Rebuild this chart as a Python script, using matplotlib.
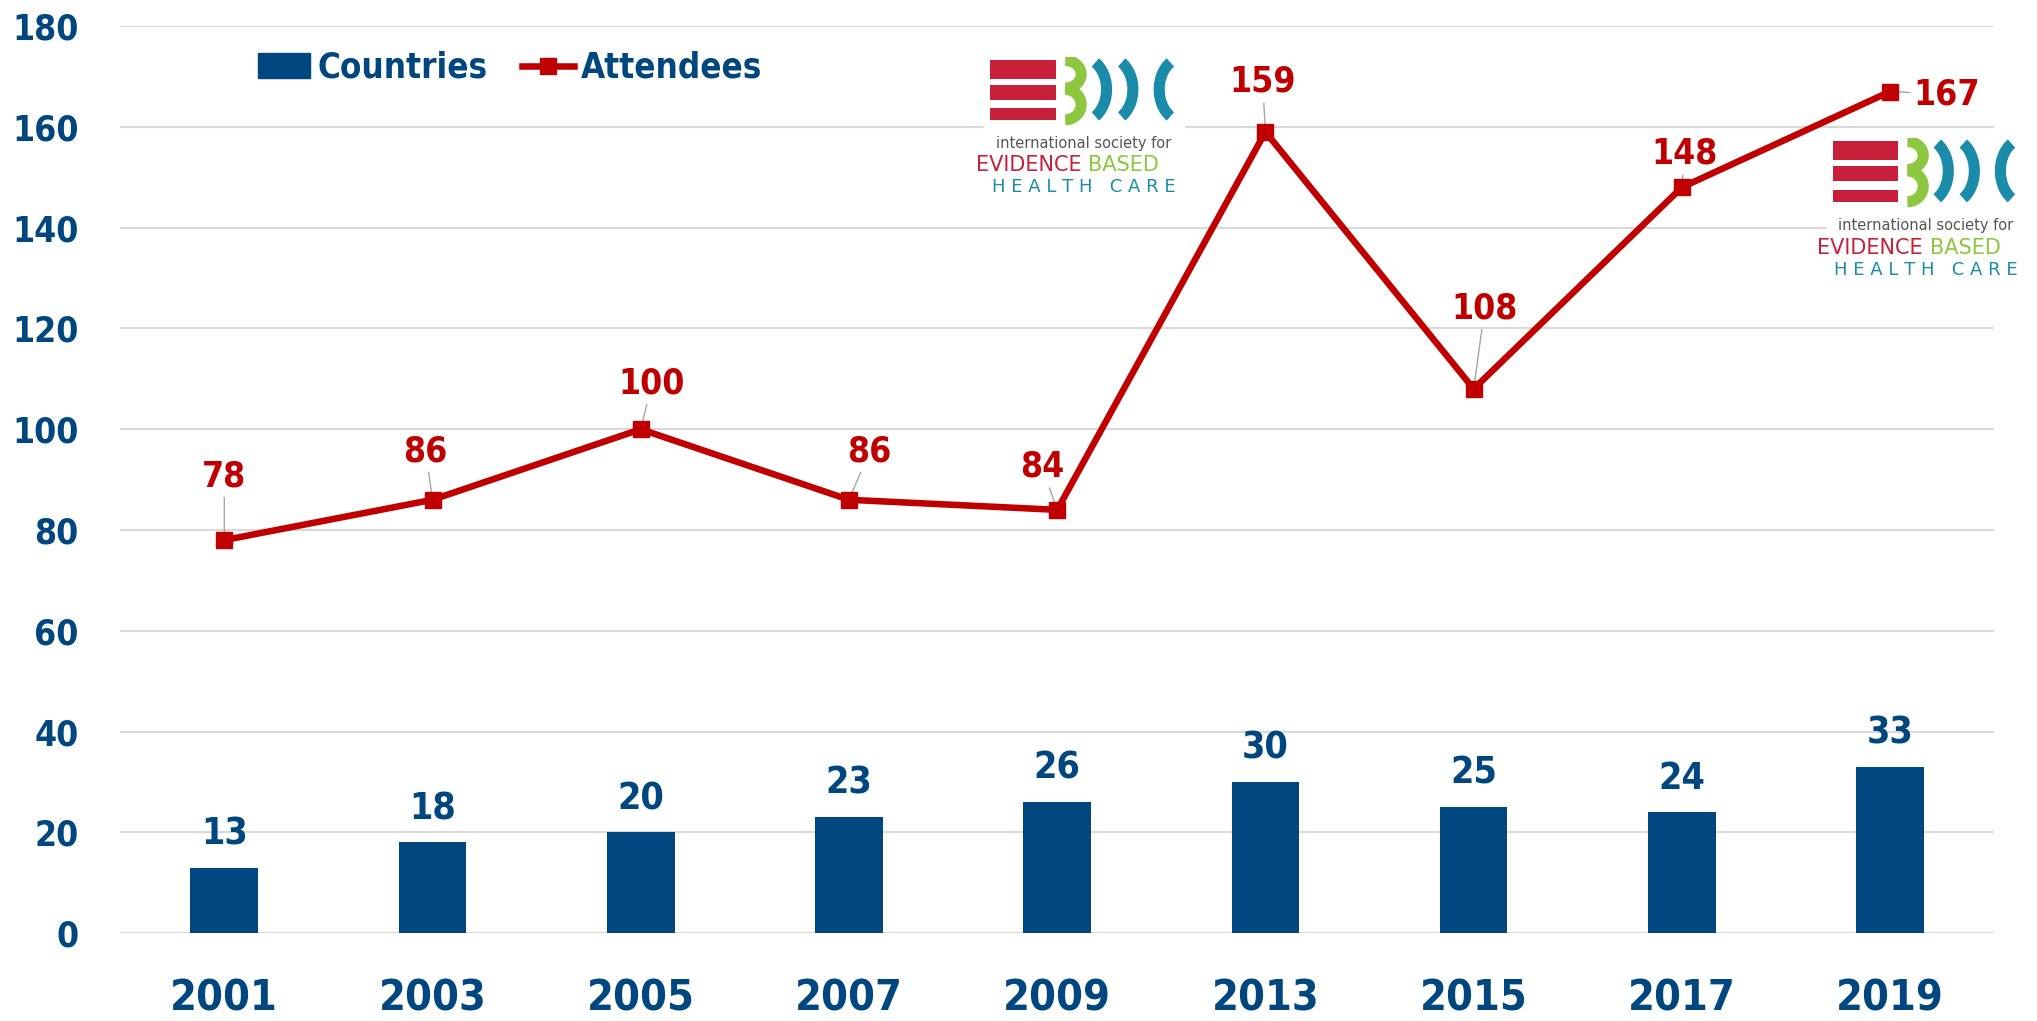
import matplotlib
matplotlib.use("Agg")
import matplotlib.pyplot as plt
import numpy as np
from matplotlib.patches import Rectangle
from matplotlib.lines import Line2D
from matplotlib.patches import Patch

years = ["2001", "2003", "2005", "2007", "2009", "2013", "2015", "2017", "2019"]
countries = [13, 18, 20, 23, 26, 30, 25, 24, 33]
attendees = [78, 86, 100, 86, 84, 159, 108, 148, 167]

# label offsets (points) for the attendee labels
label_offsets = [(0, 46), (-5, 35), (8, 33), (15, 35), (-11, 31),
                 (-2, 36), (8, 58), (2, 24), (41, -2)]

BLUE = "#00467F"
RED = "#C00000"
GRID = "#D9D9D9"

plt.rcParams["font.family"] = ["DejaVu Sans"]
plt.rcParams["font.stretch"] = "condensed"
plt.rcParams["font.weight"] = "bold"


def bracket(ax, cx, cy, a, b, span, color, lw, flip=False):
    t = np.linspace(-span, span, 60)
    xs = cx - a * np.cos(t) if flip else cx + a * np.cos(t)
    ax.plot(xs, cy + b * np.sin(t), color=color, lw=lw,
            solid_capstyle="butt")


def draw_logo(fig, rect):
    ax = fig.add_axes(rect)
    ax.set_xlim(0, 1)
    ax.set_ylim(0, 1)
    ax.axis("off")
    ax.add_patch(Rectangle((-0.03, -0.03), 1.06, 1.06, color="white",
                           transform=ax.transAxes, clip_on=False, zorder=0))
    crimson = "#C8203A"
    green = "#8DC63F"
    teal = "#1A8BA8"
    for y0, h in [(0.84, 0.14), (0.69, 0.11), (0.54, 0.09)]:
        ax.add_patch(Rectangle((0.0, y0), 0.35, h, color=crimson, lw=0))
    # green "3"
    bracket(ax, 0.40, 0.875, 0.085, 0.10, np.pi / 2, green, 8)
    bracket(ax, 0.40, 0.655, 0.085, 0.11, np.pi / 2, green, 8)
    # blue brackets
    bracket(ax, 0.49, 0.765, 0.13, 0.232, 1.0, teal, 8)
    bracket(ax, 0.63, 0.765, 0.13, 0.232, 1.0, teal, 8)
    bracket(ax, 1.03, 0.765, 0.13, 0.232, 1.0, teal, 8, flip=True)
    ax.text(0.5, 0.375, "international society for", ha="center", va="center",
            fontsize=10.5, color="#555555", fontweight="normal",
            fontstretch="normal")
    ax.text(0.52, 0.215, "EVIDENCE ", ha="right", va="center", fontsize=15,
            color=crimson, fontweight="normal", fontstretch="normal")
    ax.text(0.52, 0.215, "BASED", ha="left", va="center", fontsize=15,
            color=green, fontweight="normal", fontstretch="normal")
    ax.text(0.5, 0.06, "H E A L T H   C A R E", ha="center", va="center",
            fontsize=13, color=teal, fontweight="normal",
            fontstretch="normal")


fig = plt.figure(figsize=(20.37, 10.21), dpi=100)
ax = fig.add_axes([0.059, 0.086, 0.92, 0.8885])

x = list(range(len(years)))
ax.bar(x, countries, width=0.325, color=BLUE, zorder=3)
ax.plot(x, attendees, color=RED, lw=4.7, marker="s", markersize=11, zorder=4)

for xi, v in zip(x, countries):
    ax.annotate(str(v), (xi, v), xytext=(0, 24), textcoords="offset points",
                ha="center", va="center", fontsize=27, color=BLUE,
                fontweight="bold")

for xi, v, (dx, dy) in zip(x, attendees, label_offsets):
    ax.annotate(str(v), (xi, v), xytext=(dx, dy), textcoords="offset points",
                ha="center", va="center", fontsize=25.5, color=RED,
                fontweight="bold",
                arrowprops=dict(arrowstyle="-", color="#A6A6A6", lw=1,
                                shrinkA=1, shrinkB=0))

ax.set_xlim(-0.5, len(years) - 0.5)
ax.set_ylim(0, 180)
ax.set_yticks(range(0, 181, 20))
ax.set_xticks(x)
ax.set_xticklabels(years)
ax.grid(axis="y", color=GRID, lw=1.5, zorder=0)
ax.set_axisbelow(True)
for s in ax.spines.values():
    s.set_visible(False)
ax.tick_params(axis="both", length=0, colors=BLUE)
ax.tick_params(axis="y", labelsize=25.5, pad=30)
ax.tick_params(axis="x", labelsize=31, pad=32)
for lab in ax.get_xticklabels() + ax.get_yticklabels():
    lab.set_fontweight("bold")

handles = [Patch(color=BLUE, label="Countries"),
           Line2D([0], [0], color=RED, lw=4.7, marker="s", markersize=11,
                  label="Attendees")]
leg = ax.legend(handles=handles, loc="center left",
                bbox_to_anchor=(0.057, 0.954), ncol=2, frameon=False,
                fontsize=25, handlelength=1.5, handletextpad=0.2,
                columnspacing=1.0)
for t in leg.get_texts():
    t.set_color(BLUE)
    t.set_fontweight("bold")

draw_logo(fig, [990 / 2037, 1 - 195 / 1021, 188 / 2037, 138 / 1021])
draw_logo(fig, [1833 / 2037, 1 - 278 / 1021, 186 / 2037, 140 / 1021])

fig.savefig("out.png", dpi=100)
